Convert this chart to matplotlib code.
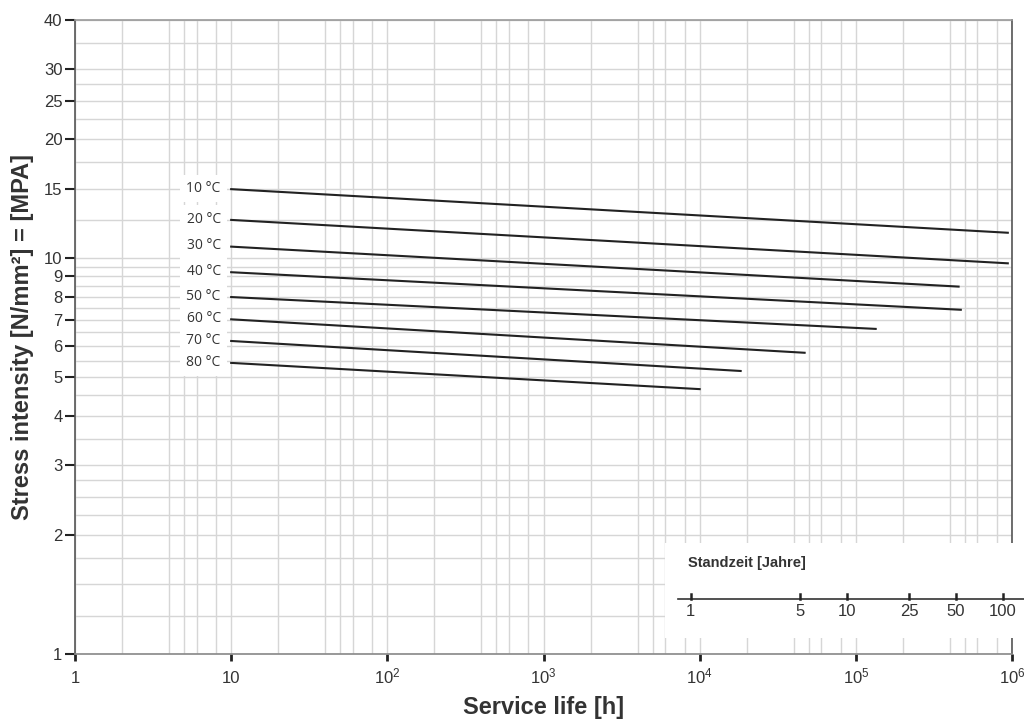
import matplotlib
matplotlib.use("Agg")
import matplotlib.pyplot as plt
from matplotlib.ticker import FixedLocator, FixedFormatter, NullFormatter
from matplotlib.transforms import blended_transform_factory
from matplotlib.patches import Rectangle
from matplotlib.lines import Line2D

plt.rcParams['font.family'] = ['Liberation Sans', 'DejaVu Sans']
plt.rcParams['mathtext.fontset'] = 'custom'
plt.rcParams['mathtext.rm'] = 'Liberation Sans'
plt.rcParams['mathtext.it'] = 'Liberation Sans'

# ---- data ----
temps = ["10 °C", "20 °C", "30 °C", "40 °C", "50 °C", "60 °C", "70 °C", "80 °C"]
start_hours = [10, 10, 10, 10, 10, 10, 10, 10]
end_hours = [9.4e5, 9.4e5, 4.55e5, 4.7e5, 1.34e5, 4.7e4, 1.83e4, 1.0e4]
start_stress = [14.95, 12.5, 10.7, 9.22, 7.98, 7.01, 6.18, 5.44]
end_stress = [11.6, 9.71, 8.48, 7.41, 6.63, 5.77, 5.19, 4.67]

x_ticks = [1, 10, 1e2, 1e3, 1e4, 1e5, 1e6]
x_ticklabels = ["1", "10", "$10^2$", "$10^3$", "$10^4$", "$10^5$", "$10^6$"]
x_minor = [m * 10 ** d for d in range(6) for m in (2, 4, 5, 6, 8)]
y_ticks = [1, 2, 3, 4, 5, 6, 7, 8, 9, 10, 15, 20, 25, 30, 40]
y_ticklabels = [str(v) for v in y_ticks]
y_minor = [1.25, 1.5, 1.75, 2.25, 2.5, 2.75, 3.5, 4.5, 5.5, 6.5, 7.5, 8.5, 9.5,
           12.5, 17.5, 22.5, 27.5, 35]

years = [1, 5, 10, 25, 50, 100]
hours_per_year = 8760

# ---- figure ----
fig = plt.figure(figsize=(10.24, 7.2), dpi=100)
ax = fig.add_axes([75 / 1024, 1 - 654 / 720, (1012 - 75) / 1024, (654 - 20) / 720])
ax.set_xscale("log")
ax.set_yscale("log")
ax.set_xlim(1, 1e6)
ax.set_ylim(1, 40)

ax.xaxis.set_major_locator(FixedLocator(x_ticks))
ax.xaxis.set_major_formatter(FixedFormatter(x_ticklabels))
ax.xaxis.set_minor_locator(FixedLocator(x_minor))
ax.xaxis.set_minor_formatter(NullFormatter())
ax.yaxis.set_major_locator(FixedLocator(y_ticks))
ax.yaxis.set_major_formatter(FixedFormatter(y_ticklabels))
ax.yaxis.set_minor_locator(FixedLocator(y_minor))
ax.yaxis.set_minor_formatter(NullFormatter())

ax.grid(True, which="both", color="#d6d6d6", linewidth=1.0)
ax.set_axisbelow(True)
ax.tick_params(which="minor", length=0)
ax.tick_params(axis="y", which="major", length=7, width=1.5, color="#222222",
               labelsize=12, labelcolor="#333333", pad=2)
ax.tick_params(axis="x", which="major", length=5, width=2, color="#222222",
               labelsize=12, labelcolor="#333333", pad=16)
for lbl in ax.get_xticklabels():
    lbl.set_verticalalignment("baseline")

ax.spines["left"].set_color("#555555")
ax.spines["bottom"].set_color("#888888")
ax.spines["top"].set_color("#999999")
ax.spines["right"].set_color("#555555")
for s in ax.spines.values():
    s.set_linewidth(1.2)

for lab, x0, x1, y0, y1 in zip(temps, start_hours, end_hours, start_stress, end_stress):
    ax.plot([x0, x1], [y0, y1], color="#222222", linewidth=1.5, zorder=3)
    ax.annotate(lab, xy=(x0, y0), xytext=(-7.5, 0.5), textcoords="offset points",
                ha="right", va="center", fontsize=10, color="#333333",
                family=["Open Sans", "DejaVu Sans"], zorder=4,
                bbox=dict(boxstyle="square,pad=0.45", fc="white", ec="none"))

ax.set_xlabel("Service life [h]", fontsize=17, fontweight="bold", color="#333333", labelpad=7)
ax.set_ylabel("Stress intensity [N/mm²] = [MPA]", fontsize=17, fontweight="bold",
              color="#333333", labelpad=7)

# ---- inset: service life in years ----
fig.patches.append(Rectangle((665 / 1024, 1 - 638 / 720), (1024 - 665) / 1024, (638 - 543) / 720,
                             transform=fig.transFigure, facecolor="white", edgecolor="none",
                             zorder=5))
fig.text(688 / 1024, 1 - 563 / 720, "Standzeit [Jahre]", fontsize=10.5, fontweight="bold",
         color="#333333", va="center", ha="left", zorder=6)
axis_y = 1 - 599 / 720
fig.add_artist(Line2D([678 / 1024, 1.0], [axis_y, axis_y], transform=fig.transFigure,
                      color="#333333", linewidth=1.2, zorder=6))
trans = blended_transform_factory(ax.transData, fig.transFigure)
for yr in years:
    h = yr * hours_per_year
    fig.add_artist(Line2D([h, h], [axis_y, axis_y + 5 / 720], transform=trans,
                          color="#222222", linewidth=1.8, zorder=6, clip_on=False))
    fig.text(h, 1 - 612 / 720, str(yr), transform=trans, fontsize=12, color="#333333",
             ha="center", va="center", zorder=6)

fig.savefig("out.png", dpi=100)
